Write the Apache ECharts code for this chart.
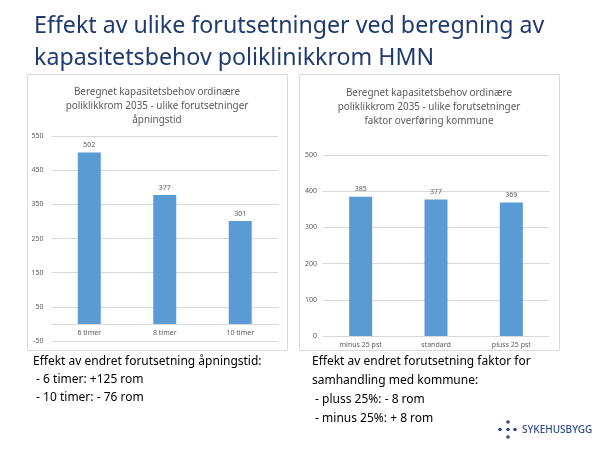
<!DOCTYPE html>
<html><head><meta charset="utf-8">
<script src="https://cdn.jsdelivr.net/npm/echarts@6/dist/echarts.min.js"></script>
<style>html,body{margin:0;padding:0;background:#fff}#c{width:600px;height:450px}</style>
</head><body><div id="c"></div>
<script>
const heading = ['Effekt av ulike forutsetninger ved beregning av', 'kapasitetsbehov poliklinikkrom HMN'];
const leftTitle = ['Beregnet kapasitetsbehov ordinære', 'poliklikkrom 2035 - ulike forutsetninger', 'åpningstid'];
const leftCats = ['6 timer', '8 timer', '10 timer'];
const leftVals = [502, 377, 301];
const rightTitle = ['Beregnet kapasitetsbehov ordinære', 'poliklikkrom 2035 - ulike forutsetninger', 'faktor overføring kommune'];
const rightCats = ['minus 25 pst', 'standard', 'pluss 25 pst'];
const rightVals = [385, 377, 369];
const leftText = ['Effekt av endret forutsetning åpningstid:', ' - 6 timer: +125 rom', ' - 10 timer: - 76 rom'];
const rightText = ['Effekt av endret forutsetning faktor for', 'samhandling med kommune:', ' - pluss 25%: - 8 rom', ' - minus 25%: + 8 rom'];
const logoText = 'SYKEHUSBYGG';

const FONT = '"Noto Sans", "Open Sans", sans-serif';
const GRAY = '#595959';
const BLUE = '#5B9BD5';
const GRID = '#D9D9D9';

const chart = echarts.init(document.getElementById('c'), null, {renderer: 'canvas'});

const g = [];
g.push({type: 'rect', shape: {x: 27.5, y: 74.5, width: 260, height: 276}, style: {fill: '#fff', stroke: '#D9D9D9', lineWidth: 1}, z: -1});
g.push({type: 'rect', shape: {x: 299.5, y: 74.5, width: 260, height: 276}, style: {fill: '#fff', stroke: '#D9D9D9', lineWidth: 1}, z: -1});
heading.forEach((t, i) => g.push({type: 'text', x: 34, y: 26 + i * 32, style: {text: t, fill: '#203A72', font: '23.2px ' + FONT, verticalAlign: 'middle'}}));
leftTitle.forEach((t, i) => g.push({type: 'text', x: 157, y: 92 + i * 14, style: {text: t, fill: GRAY, font: '9.9px ' + FONT, align: 'center', verticalAlign: 'middle'}}));
rightTitle.forEach((t, i) => g.push({type: 'text', x: 429, y: 93 + i * 14, style: {text: t, fill: GRAY, font: '9.9px ' + FONT, align: 'center', verticalAlign: 'middle'}}));
leftText.forEach((t, i) => g.push({type: 'text', x: 33, y: 362 + i * 18, style: {text: t, fill: '#000', font: '12px ' + FONT, verticalAlign: 'middle'}}));
rightText.forEach((t, i) => g.push({type: 'text', x: 312, y: 362 + i * 18.7, style: {text: t, fill: '#000', font: '12px ' + FONT, verticalAlign: 'middle'}}));
// logo dots
[[508, 422], [500, 429.5], [508, 429.5], [515, 429.5], [508, 437]].forEach(p => g.push({type: 'circle', shape: {cx: p[0], cy: p[1], r: 1.8}, style: {fill: '#2E4A8C'}}));
g.push({type: 'text', x: 522, y: 430, style: {text: logoText, fill: '#2E4A8C', font: '500 10px ' + FONT, verticalAlign: 'middle'}});

const labelStyle = {color: GRAY, fontSize: 7, fontFamily: FONT};

chart.setOption({
  animation: false,
  backgroundColor: '#fff',
  graphic: g,
  grid: [
    {left: 51.5, right: 322, top: 136, height: 205},
    {left: 323, right: 51, top: 155, height: 181}
  ],
  xAxis: [
    {type: 'category', gridIndex: 0, data: leftCats, offset: -17.1, axisLine: {onZero: false, lineStyle: {color: GRID}}, axisTick: {show: false}, axisLabel: Object.assign({margin: 6}, labelStyle)},
    {type: 'category', gridIndex: 1, data: rightCats, axisLine: {lineStyle: {color: GRID}}, axisTick: {show: false}, axisLabel: Object.assign({margin: 5}, labelStyle)}
  ],
  yAxis: [
    {type: 'value', gridIndex: 0, min: -50, max: 550, show: false, splitLine: {show: false}},
    {type: 'value', gridIndex: 0, min: 0, max: 600, interval: 100, position: 'left', axisLine: {show: false}, axisTick: {show: false},
      axisLabel: Object.assign({margin: 8, formatter: v => String(v - 50)}, labelStyle), splitLine: {lineStyle: {color: GRID}}},
    {type: 'value', gridIndex: 1, min: 0, max: 500, interval: 100, axisLine: {show: false}, axisTick: {show: false},
      axisLabel: Object.assign({margin: 6}, labelStyle), splitLine: {lineStyle: {color: GRID}}}
  ],
  series: [
    {type: 'bar', xAxisIndex: 0, yAxisIndex: 0, data: leftVals, barWidth: 23, itemStyle: {color: BLUE},
      label: Object.assign({show: true, position: 'top', distance: 4}, labelStyle)},
    {type: 'bar', xAxisIndex: 1, yAxisIndex: 2, data: rightVals, barWidth: 23, itemStyle: {color: BLUE},
      label: Object.assign({show: true, position: 'top', distance: 4}, labelStyle)}
  ]
});
</script></body></html>
